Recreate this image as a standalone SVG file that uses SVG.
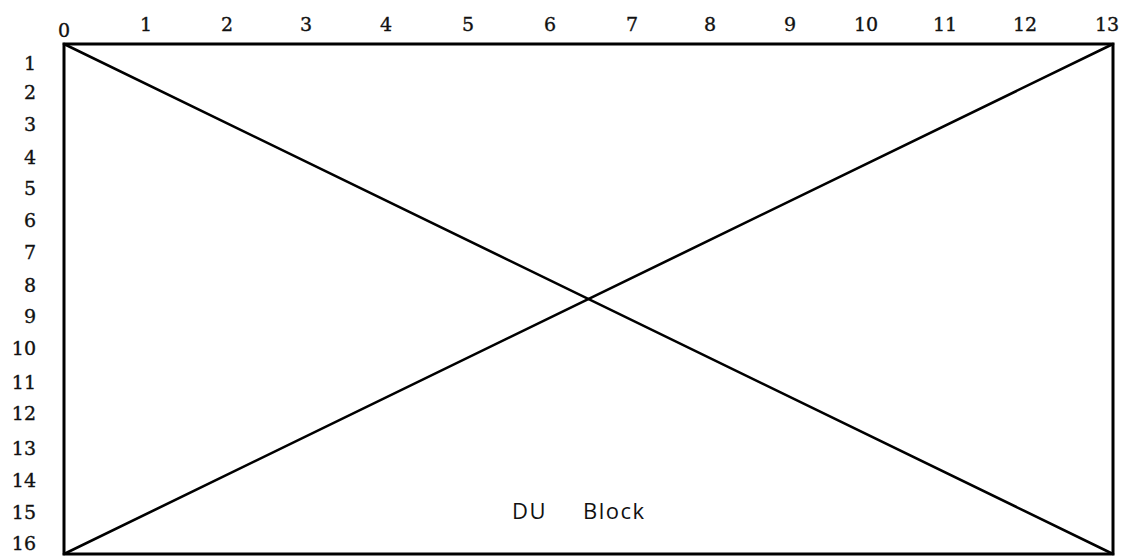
<svg xmlns="http://www.w3.org/2000/svg" width="1128" height="560" viewBox="0 0 1128 560">
  <style>
    .num { font-family: "DejaVu Serif", "Liberation Serif", serif; font-size: 19px; fill: #111; stroke: #111; stroke-width: 0.35; }
    .col { text-anchor: middle; }
    .row { text-anchor: end; }
    .frame { fill: none; stroke: #000; stroke-width: 3; }
    .diag { stroke: #000; stroke-width: 2.6; stroke-linecap: round; }
    .label { font-family: "Open Sans", "DejaVu Sans", sans-serif; font-size: 22px; fill: #111; letter-spacing: 1.5px; }
  </style>
  <rect width="1128" height="560" fill="#fff"/>

  <!-- column scale along the top edge -->
  <g id="column-scale">
    <text class="num col" x="64" y="37">0</text>
    <text class="num col" x="146" y="31">1</text>
    <text class="num col" x="227" y="31">2</text>
    <text class="num col" x="306" y="31">3</text>
    <text class="num col" x="386" y="31">4</text>
    <text class="num col" x="468" y="31">5</text>
    <text class="num col" x="550" y="31">6</text>
    <text class="num col" x="632" y="31">7</text>
    <text class="num col" x="710" y="31">8</text>
    <text class="num col" x="790" y="31">9</text>
    <text class="num col" x="866" y="31">10</text>
    <text class="num col" x="945" y="31">11</text>
    <text class="num col" x="1025" y="31">12</text>
    <text class="num col" x="1107" y="31">13</text>
  </g>

  <!-- row scale along the left edge -->
  <g id="row-scale">
    <text class="num row" x="36" y="70">1</text>
    <text class="num row" x="36" y="99">2</text>
    <text class="num row" x="36" y="131">3</text>
    <text class="num row" x="36" y="164">4</text>
    <text class="num row" x="36" y="195">5</text>
    <text class="num row" x="36" y="227">6</text>
    <text class="num row" x="36" y="259">7</text>
    <text class="num row" x="36" y="292">8</text>
    <text class="num row" x="36" y="323">9</text>
    <text class="num row" x="36" y="355">10</text>
    <text class="num row" x="36" y="389">11</text>
    <text class="num row" x="36" y="420">12</text>
    <text class="num row" x="36" y="455">13</text>
    <text class="num row" x="36" y="487">14</text>
    <text class="num row" x="36" y="519">15</text>
    <text class="num row" x="36" y="550">16</text>
  </g>

  <!-- block outline -->
  <g id="du-block">
    <rect class="frame" x="64" y="44" width="1049" height="510"/>
    <text class="label" y="519"><tspan x="512">DU</tspan><tspan x="583">Block</tspan></text>
  </g>

  <!-- corner-to-corner diagonals -->
  <g id="connectors">
    <line class="diag" x1="64" y1="44" x2="1113" y2="554"/>
    <line class="diag" x1="64" y1="554" x2="1113" y2="44"/>
  </g>
</svg>
